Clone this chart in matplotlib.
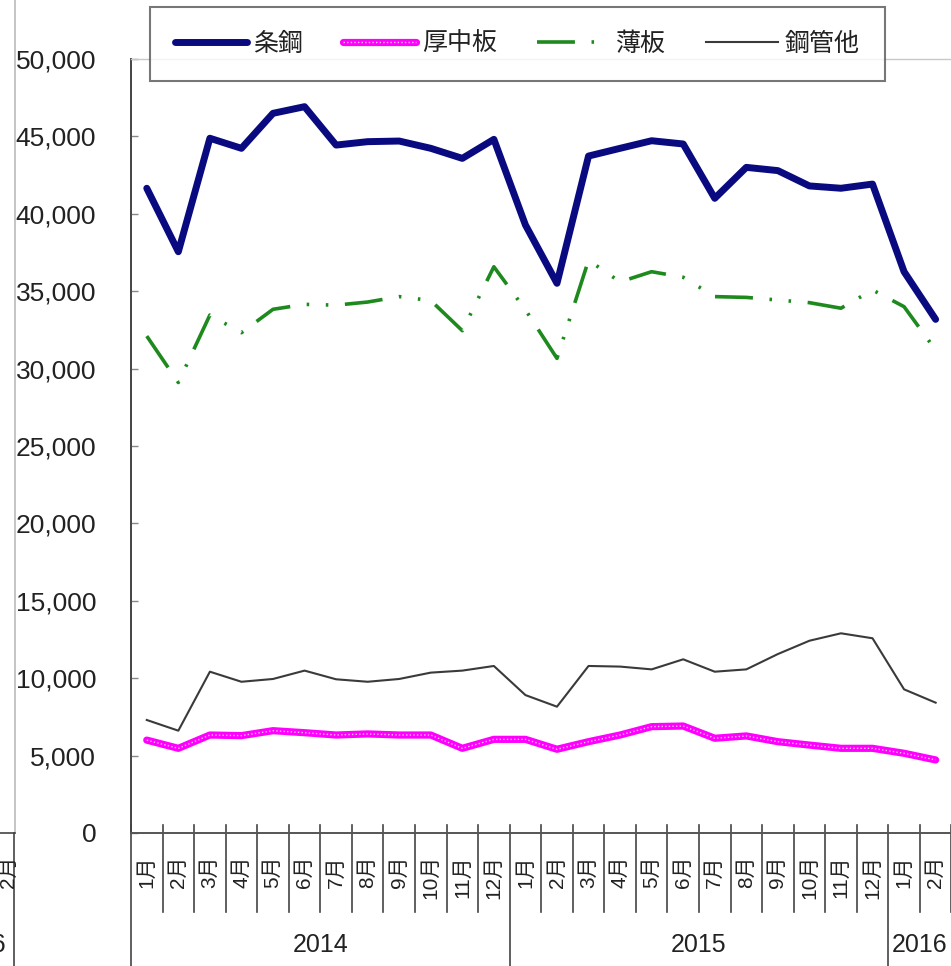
import numpy as np
import matplotlib
matplotlib.use('Agg')
import matplotlib.pyplot as plt
from matplotlib import transforms
from matplotlib.lines import Line2D
from matplotlib.ticker import FuncFormatter

# ---------------- data ----------------
months = ['1月', '2月', '3月', '4月', '5月', '6月', '7月', '8月', '9月', '10月', '11月', '12月',
          '1月', '2月', '3月', '4月', '5月', '6月', '7月', '8月', '9月', '10月', '11月', '12月',
          '1月', '2月']
years = ['2014', '2015', '2016']
year_counts = [12, 12, 2]

series_names = ['条鋼', '厚中板', '薄板', '鋼管他']
jouko = [41650, 37550, 44880, 44230, 46490, 46920, 44440, 44660, 44700, 44230, 43580, 44810,
         39280, 35510, 43730, 44230, 44720, 44510, 41000, 43000, 42790, 41800, 41650, 41920,
         36260, 33180]
atsu = [6000, 5470, 6330, 6290, 6610, 6480, 6330, 6400, 6330, 6330, 5470, 6050,
        6050, 5410, 5900, 6330, 6870, 6910, 6120, 6270, 5900, 5680, 5470, 5470,
        5150, 4720]
usu = [32100, 29100, 33460, 32320, 33830, 34150, 34100, 34300, 34650, 34400, 32450, 36580,
       33800, 30660, 37000, 35600, 36260, 35900, 34650, 34600, 34430, 34260, 33900, 35080,
       34000, 31200]
kokan = [7300, 6610, 10420, 9770, 9950, 10490, 9930, 9770, 9950, 10360, 10490, 10790,
         8910, 8160, 10790, 10750, 10570, 11220, 10420, 10570, 11560, 12420, 12900, 12580,
         9280, 8420]
yticks = list(range(0, 50001, 5000))

# ---------------- figure ----------------
plt.rcParams['font.family'] = ['Liberation Sans', 'Noto Sans CJK JP', 'DejaVu Sans']

W, H = 951, 966
fig = plt.figure(figsize=(W / 100, H / 100), dpi=100)
x0_px, x1_px, y0_px, y1_px = 131, 951.4, 833, 59
ax = fig.add_axes([x0_px / W, 1 - y0_px / H, (x1_px - x0_px) / W, (y0_px - y1_px) / H])

x = np.arange(len(months))
l_kokan, = ax.plot(x, kokan, color='#3a3a3a', lw=1.5, zorder=3)
l_atsu, = ax.plot(x, atsu, color='#ff00ff', lw=5.2, solid_joinstyle='round',
                  solid_capstyle='round', zorder=3)
l_atsu2, = ax.plot(x, atsu, color='#ffc0ff', lw=1.0, linestyle=(0, (1.0, 1.6)), zorder=3.1)
l_usu, = ax.plot(x, usu, color='#1e8a1e', lw=2.6,
                 linestyle=(0, (10.5, 4.6, 0.7, 4.6, 0.7, 4.6)), zorder=4)
l_jouko, = ax.plot(x, jouko, color='#0a0a80', lw=5, solid_joinstyle='round',
                   solid_capstyle='round', zorder=5)

ax.set_xlim(-0.5, len(months) - 0.5)
ax.set_ylim(0, 50000)
ax.set_yticks(yticks)
ax.yaxis.set_major_formatter(FuncFormatter(lambda v, p: f'{int(v):,}'))
ax.tick_params(axis='y', direction='in', length=5, width=1, color='#888888',
               pad=25, labelsize=19, labelcolor='#222222')
ax.set_xticks(x)
ax.set_xticklabels(months, rotation=90, fontsize=15, color='#222222')
ax.tick_params(axis='x', length=0, pad=16)

ax.spines['right'].set_visible(False)
ax.spines['top'].set_color('#c8c8c8')
ax.spines['top'].set_linewidth(1.0)
ax.spines['left'].set_color('#444444')
ax.spines['left'].set_linewidth(1.4)
ax.spines['bottom'].set_color('#555555')
ax.spines['bottom'].set_linewidth(1.4)

# category separators and year separators
trans = transforms.blended_transform_factory(ax.transData, ax.transAxes)
def ay(py):
    return (y0_px - py) / (y0_px - y1_px)
year_bounds = set(np.cumsum([0] + year_counts[:-1]) - 0.5)
for b in np.arange(-0.5, len(months) - 0.4, 1.0):
    bottom = 966 if b in year_bounds else 912
    ax.add_line(Line2D([b, b], [ay(825), ay(bottom)], transform=trans, color='#444444',
                       lw=1.2, clip_on=False))
start = -0.5
for yr, n in zip(years, year_counts):
    ax.text(start + n / 2, ay(945), yr, transform=trans, ha='center', va='center',
            fontsize=18, color='#222222', clip_on=False)
    start += n

# legend
leg = fig.legend([l_jouko, (l_atsu, l_atsu2), l_usu, l_kokan], series_names,
                 loc='center', bbox_to_anchor=(517 / W, 1 - 44 / H), ncol=4,
                 fontsize=18, frameon=True, fancybox=False, edgecolor='#555555',
                 handlelength=2.9, handletextpad=0.25, columnspacing=1.6, borderpad=1.0)
leg.get_frame().set_linewidth(1.5)
for t in leg.get_texts():
    t.set_color('#222222')

# fragment of neighbouring chart at the left edge
fig.add_artist(Line2D([15 / W, 15 / W], [1 - 0 / H, 1 - 833 / H], transform=fig.transFigure,
                      color='#bbbbbb', lw=1.2))
fig.add_artist(Line2D([0, 15 / W], [1 - 833 / H, 1 - 833 / H], transform=fig.transFigure,
                      color='#444444', lw=1.2))
fig.add_artist(Line2D([14 / W, 14 / W], [1 - 833 / H, 0], transform=fig.transFigure,
                      color='#444444', lw=1.2))
fig.text(8 / W, 1 - 856 / H, '2月', rotation=90, ha='center', va='top', fontsize=15,
         color='#222222')
fig.text(6 / W, 1 - 945 / H, '2016', ha='right', va='center', fontsize=18, color='#222222')

fig.savefig('out.png', dpi=100, facecolor='white')
